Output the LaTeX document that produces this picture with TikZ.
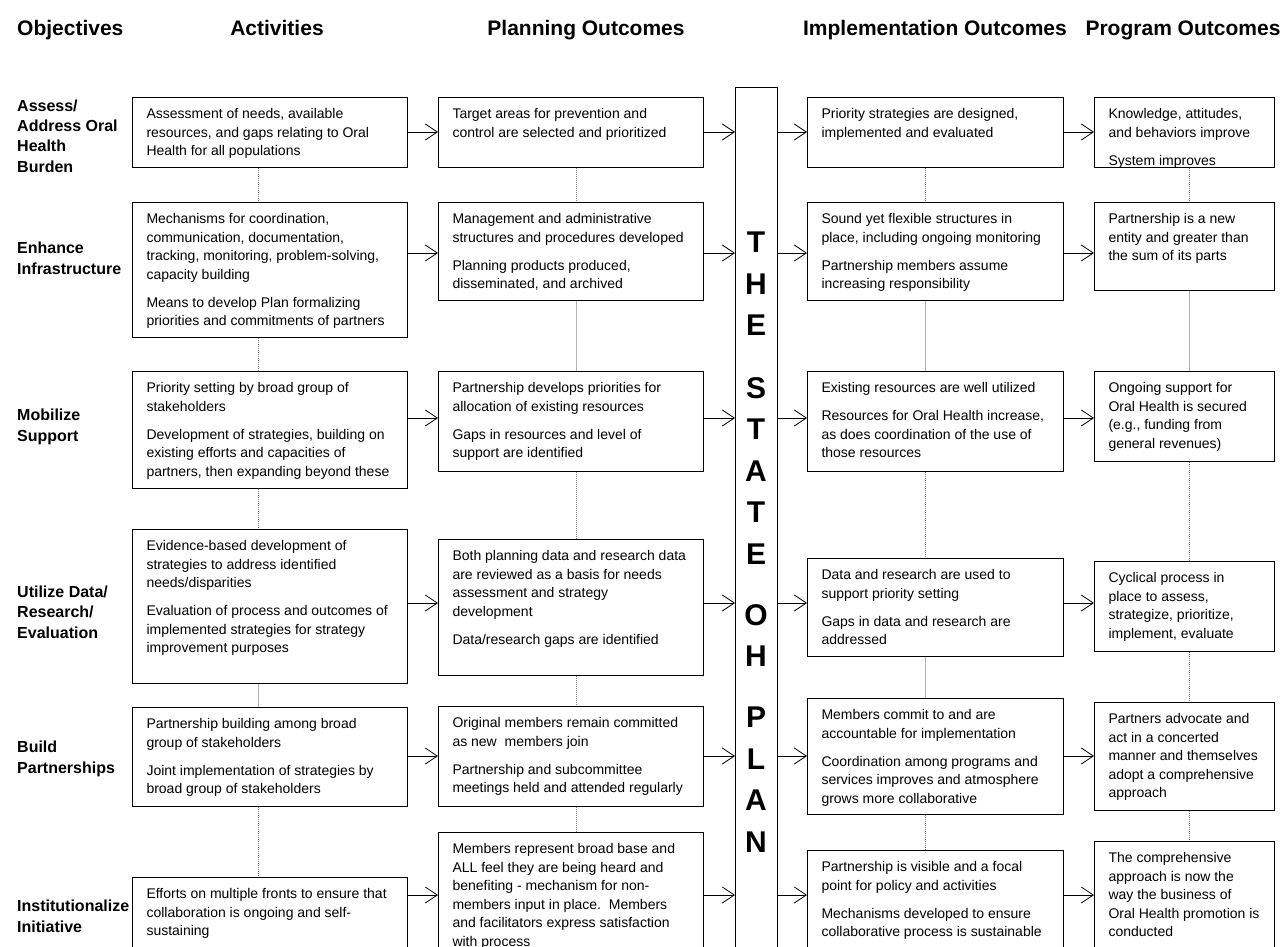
\documentclass[tikz,border=0pt]{standalone}
\usepackage{fontspec}
\setmainfont{Liberation Sans}
\usetikzlibrary{arrows.meta}
\newcommand{\bxt}[3]{\parbox[t][#2pt][t]{#1pt}{\fontsize{14}{18.6}\selectfont\leftskip=14pt\rightskip=0pt plus 1fil\parindent=0pt\parskip=0pt\vspace*{8pt}\strut #3}}
\newcommand{\np}{\par\vspace{9.3pt}\strut}
\tikzset{
 box/.style={draw=black, line width=1pt, inner sep=0pt, anchor=north west},
 flow/.style={line width=0.8pt, -{Straight Barb[length=12pt,width=16pt]}},
 dotl/.style={draw=gray, line width=0.9pt, dash pattern=on 1pt off 1pt},
 soll/.style={draw=black!30, line width=0.9pt},
 hdr/.style={font=\fontsize{21}{25}\selectfont\bfseries, anchor=base, inner sep=0pt},
 obj/.style={font=\fontsize{16}{20.3}\selectfont\bfseries, anchor=base west, align=left, inner sep=0pt},
 planlbl/.style={font=\fontsize{30}{41.5}\selectfont\bfseries, align=center, anchor=base, inner sep=0pt},
}
\begin{document}
\begin{tikzpicture}[x=1pt,y=-1pt]
\fill[white] (0,0) rectangle (1285,947);
\clip (0,0) rectangle (1285,947);

% headers
\node[hdr, anchor=base west] (h0) at (17,36) {Objectives};
\node[hdr] (h1) at (277,36) {Activities};
\node[hdr] (h2) at (586,36) {Planning Outcomes};
\node[hdr] (h3) at (935,36) {Implementation Outcomes};
\node[hdr] (h4) at (1183,36) {Program Outcomes};

% objectives (anchored at the baseline of the last line)
\node[obj] (o1) at (17,172) {Assess/\\Address Oral\\Health\\Burden};
\node[obj] (o2) at (17,274) {Enhance\\Infrastructure};
\node[obj] (o3) at (17,441) {Mobilize\\Support};
\node[obj] (o4) at (17,638) {Utilize Data/\\Research/\\Evaluation};
\node[obj] (o5) at (17,773) {Build\\Partnerships};
\node[obj] (o6) at (17,932) {Institutionalize\\Initiative};

% activities
\node[box] (a1) at (132,97) {\bxt{275}{70}{Assessment of needs, available\\resources, and gaps relating to Oral\\Health for all populations}};
\node[box] (a2) at (132,202) {\bxt{275}{135}{Mechanisms for coordination,\\communication, documentation,\\tracking, monitoring, problem-solving,\\capacity building\np Means to develop Plan formalizing\\priorities and commitments of partners}};
\node[box] (a3) at (132,371) {\bxt{275}{117}{Priority setting by broad group of\\stakeholders\np Development of strategies, building on\\existing efforts and capacities of\\partners, then expanding beyond these}};
\node[box] (a4) at (132,529) {\bxt{275}{154}{Evidence-based development of\\strategies to address identified\\needs/disparities\np Evaluation of process and outcomes of\\implemented strategies for strategy\\improvement purposes}};
\node[box] (a5) at (132,707) {\bxt{275}{99}{Partnership building among broad\\group of stakeholders\np Joint implementation of strategies by\\broad group of stakeholders}};
\node[box] (a6) at (132,877) {\bxt{275}{90}{Efforts on multiple fronts to ensure that\\collaboration is ongoing and self-\\sustaining}};

% planning outcomes
\node[box] (p1) at (438,97) {\bxt{265}{70}{Target areas for prevention and\\control are selected and prioritized}};
\node[box] (p2) at (438,202) {\bxt{265}{98}{Management and administrative\\structures and procedures developed\np Planning products produced,\\disseminated, and archived}};
\node[box] (p3) at (438,371) {\bxt{265}{100}{Partnership develops priorities for\\allocation of existing resources\np Gaps in resources and level of\\support are identified}};
\node[box] (p4) at (438,539) {\bxt{265}{136}{Both planning data and research data\\are reviewed as a basis for needs\\assessment and strategy\\development\np Data/research gaps are identified}};
\node[box] (p5) at (438,706) {\bxt{265}{100}{Original members remain committed\\as new\ \ members join\np Partnership and subcommittee\\meetings held and attended regularly}};
\node[box] (p6) at (438,832) {\bxt{265}{135}{Members represent broad base and\\ALL feel they are being heard and\\benefiting - mechanism for non-\\members input in place.\ \ Members\\and facilitators express satisfaction\\with process}};

% the state plan
\node[box, minimum width=42pt, minimum height=890pt] (plan) at (735,87) {};
\node[planlbl] (planl) at (756,852) {T\\H\\E\\[21pt]S\\T\\A\\T\\E\\[19.5pt]O\\H\\[19.5pt]P\\L\\A\\N};

% implementation outcomes
\node[box] (i1) at (807,97) {\bxt{256}{70}{Priority strategies are designed,\\implemented and evaluated}};
\node[box] (i2) at (807,202) {\bxt{256}{98}{Sound yet flexible structures in\\place, including ongoing monitoring\np Partnership members assume\\increasing responsibility}};
\node[box] (i3) at (807,371) {\bxt{256}{100}{Existing resources are well utilized\np Resources for Oral Health increase,\\as does coordination of the use of\\those resources}};
\node[box] (i4) at (807,558) {\bxt{256}{98}{Data and research are used to\\support priority setting\np Gaps in data and research are\\addressed}};
\node[box] (i5) at (807,698) {\bxt{256}{116}{Members commit to and are\\accountable for implementation\np Coordination among programs and\\services improves and atmosphere\\grows more collaborative}};
\node[box] (i6) at (807,850) {\bxt{256}{120}{Partnership is visible and a focal\\point for policy and activities\np Mechanisms developed to ensure\\collaborative process is sustainable}};

% program outcomes
\node[box] (g1) at (1094,97) {\bxt{180}{70}{Knowledge, attitudes,\\and behaviors improve\np System improves}};
\node[box] (g2) at (1094,202) {\bxt{180}{88}{Partnership is a new\\entity and greater than\\the sum of its parts}};
\node[box] (g3) at (1094,371) {\bxt{180}{90}{Ongoing support for\\Oral Health is secured\\(e.g., funding from\\general revenues)}};
\node[box] (g4) at (1094,561) {\bxt{180}{90}{Cyclical process in\\place to assess,\\strategize, prioritize,\\implement, evaluate}};
\node[box] (g5) at (1094,702) {\bxt{180}{108}{Partners advocate and\\act in a concerted\\manner and themselves\\adopt a comprehensive\\approach}};
\node[box] (g6) at (1094,841) {\bxt{180}{130}{The comprehensive\\approach is now the\\way the business of\\Oral Health promotion is\\conducted}};

% row and column references
\coordinate (r1) at (0,132);
\coordinate (r2) at (0,253);
\coordinate (r3) at (0,418);
\coordinate (r4) at (0,603);
\coordinate (r5) at (0,756);
\coordinate (r6) at (0,895);
\coordinate (cA) at (258,0);
\coordinate (cP) at (576,0);
\coordinate (cI) at (925,0);
\coordinate (cG) at (1189,0);

% horizontal flows
\foreach \r in {1,...,6}{
  \draw[flow] (a\r.east |- r\r) -- (p\r.west |- r\r);
  \draw[flow] (p\r.east |- r\r) -- (plan.west |- r\r);
  \draw[flow] (plan.east |- r\r) -- (i\r.west |- r\r);
  \draw[flow] (i\r.east |- r\r) -- (g\r.west |- r\r);
}

% vertical links
\draw[dotl] (a1.south -| cA) -- (a2.north -| cA);
\draw[dotl] (a2.south -| cA) -- (a3.north -| cA);
\draw[dotl] (a3.south -| cA) -- (a4.north -| cA);
\draw[soll] (a4.south -| cA) -- (a5.north -| cA);
\draw[dotl] (a5.south -| cA) -- (a6.north -| cA);

\draw[dotl] (p1.south -| cP) -- (p2.north -| cP);
\draw[soll] (p2.south -| cP) -- (p3.north -| cP);
\draw[dotl] (p3.south -| cP) -- (p4.north -| cP);
\draw[dotl] (p4.south -| cP) -- (p5.north -| cP);
\draw[dotl] (p5.south -| cP) -- (p6.north -| cP);

\draw[dotl] (i1.south -| cI) -- (i2.north -| cI);
\draw[soll] (i2.south -| cI) -- (i3.north -| cI);
\draw[dotl] (i3.south -| cI) -- (i4.north -| cI);
\draw[soll] (i4.south -| cI) -- (i5.north -| cI);
\draw[dotl] (i5.south -| cI) -- (i6.north -| cI);

\draw[dotl] (g1.south -| cG) -- (g2.north -| cG);
\draw[soll] (g2.south -| cG) -- (g3.north -| cG);
\draw[dotl] (g3.south -| cG) -- (g4.north -| cG);
\draw[dotl] (g4.south -| cG) -- (g5.north -| cG);
\draw[dotl] (g5.south -| cG) -- (g6.north -| cG);
\end{tikzpicture}
\end{document}
